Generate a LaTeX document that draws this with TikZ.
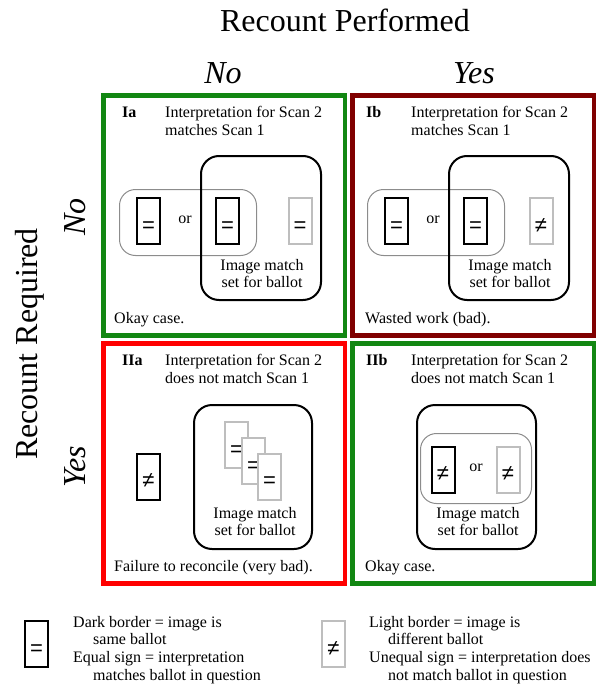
\documentclass[tikz,border=0pt]{standalone}
\usepackage{fontspec}
\setmainfont{Liberation Serif}
\newfontfamily\signfont{Liberation Sans}
\definecolor{okgreen}{RGB}{18,135,18}
\definecolor{badred}{RGB}{128,0,0}
\definecolor{failred}{RGB}{255,0,0}
\definecolor{setgray}{RGB}{140,140,140}
\definecolor{lightbal}{RGB}{190,190,190}
\tikzset{
  panel/.style={draw, line width=4.5pt, minimum width=241.5pt, minimum height=240pt, inner sep=0pt},
  matchset/.style={draw=black, line width=2pt, rounded corners=18pt, inner sep=0pt},
  optset/.style={draw=setgray, line width=1pt, rounded corners=16pt, inner sep=0pt},
  ballot/.style={line width=2pt, fill=white, minimum width=23pt, minimum height=46pt, inner sep=0pt,
    font=\signfont\fontsize{22}{23}\selectfont, text height=22pt, text depth=0pt},
  darkballot/.style={ballot, draw=black},
  lightballot/.style={ballot, draw=lightbal},
  txt/.style={font=\fontsize{16}{18}\selectfont, inner sep=0pt, anchor=base west},
  ctxt/.style={font=\fontsize{16}{18}\selectfont, inner sep=0pt, anchor=base},
  head/.style={font=\fontsize{32}{36}\selectfont, inner sep=0pt, anchor=base},
}
\begin{document}
\begin{tikzpicture}[x=1pt,y=-1pt]
\useasboundingbox (0,0) rectangle (601,685);

% axis headings
\node[head] (perf) at (345,32) {Recount Performed};
\node[head] (pno) at (223,84) {\itshape No};
\node[head] (pyes) at (474,84) {\itshape Yes};
\node[head, rotate=90] (req) at (37,344) {Recount Required};
\node[head, rotate=90] (rno) at (85,217) {\itshape No};
\node[head, rotate=90] (ryes) at (85,467) {\itshape Yes};

% quadrant frames
\node[panel, draw=okgreen] (Ia) at (224.25,215.5) {};
\node[panel, draw=badred] (Ib) at (473.25,215.5) {};
\node[panel, draw=failred] (IIa) at (224.25,463.5) {};
\node[panel, draw=okgreen] (IIb) at (473.25,463.5) {};

% ---- Ia ----
\node[txt, font=\bfseries\fontsize{16}{18}\selectfont] (Ia-tag) at (122,117) {Ia};
\node[txt] (Ia-l1) at (165,117) {Interpretation for Scan 2};
\node[txt] (Ia-l2) at (165,135) {matches Scan 1};
\node[optset, minimum width=137pt, minimum height=66pt] (Ia-opt) at (188,222.5) {};
\node[matchset, minimum width=120pt, minimum height=144pt] (Ia-set) at (261,228) {};
\node[darkballot] (Ia-b1) at (148.5,221) {=};
\node[ctxt] (Ia-or) at (185,223) {or};
\node[darkballot] (Ia-b2) at (227.5,221) {=};
\node[lightballot] (Ia-b3) at (300,221) {=};
\node[ctxt] (Ia-m1) at (262,270) {Image match};
\node[ctxt] (Ia-m2) at (262,287) {set for ballot};
\node[txt] (Ia-note) at (114,323) {Okay case.};

% ---- Ib ----
\node[txt, font=\bfseries\fontsize{16}{18}\selectfont] (Ib-tag) at (366,117) {Ib};
\node[txt] (Ib-l1) at (411,117) {Interpretation for Scan 2};
\node[txt] (Ib-l2) at (411,135) {matches Scan 1};
\node[optset, minimum width=137pt, minimum height=66pt] (Ib-opt) at (436,222.5) {};
\node[matchset, minimum width=120pt, minimum height=144pt] (Ib-set) at (509,228) {};
\node[darkballot] (Ib-b1) at (396.5,221) {=};
\node[ctxt] (Ib-or) at (433,223) {or};
\node[darkballot] (Ib-b2) at (475.5,221) {=};
\node[lightballot] (Ib-b3) at (541,221) {≠};
\node[ctxt] (Ib-m1) at (510,270) {Image match};
\node[ctxt] (Ib-m2) at (510,287) {set for ballot};
\node[txt] (Ib-note) at (365,323) {Wasted work (bad).};

% ---- IIa ----
\node[txt, font=\bfseries\fontsize{16}{18}\selectfont] (IIa-tag) at (122,365) {IIa};
\node[txt] (IIa-l1) at (165,365) {Interpretation for Scan 2};
\node[txt] (IIa-l2) at (165,383) {does not match Scan 1};
\node[matchset, minimum width=118pt, minimum height=144pt] (IIa-set) at (253,477) {};
\node[darkballot] (IIa-b0) at (148.5,476.5) {≠};
\node[lightballot] (IIa-s1) at (236.5,445) {=};
\node[lightballot] (IIa-s2) at (253.5,461) {=};
\node[lightballot] (IIa-s3) at (269.5,476.5) {=};
\node[ctxt] (IIa-m1) at (255,518) {Image match};
\node[ctxt] (IIa-m2) at (255,535) {set for ballot};
\node[txt] (IIa-note) at (114,571) {Failure to reconcile (very bad).};

% ---- IIb ----
\node[txt, font=\bfseries\fontsize{16}{18}\selectfont] (IIb-tag) at (366,365) {IIb};
\node[txt] (IIb-l1) at (411,365) {Interpretation for Scan 2};
\node[txt] (IIb-l2) at (411,383) {does not match Scan 1};
\node[matchset, minimum width=119pt, minimum height=144pt] (IIb-set) at (476.5,477) {};
\node[optset, minimum width=111pt, minimum height=70pt] (IIb-opt) at (476,468.5) {};
\node[darkballot] (IIb-b1) at (443,469.5) {≠};
\node[ctxt] (IIb-or) at (476,471) {or};
\node[lightballot] (IIb-b2) at (508,469.5) {≠};
\node[ctxt] (IIb-m1) at (478,518) {Image match};
\node[ctxt] (IIb-m2) at (478,535) {set for ballot};
\node[txt] (IIb-note) at (365,571) {Okay case.};

% ---- legend ----
\node[darkballot] (key-dark) at (36.5,644) {=};
\node[txt] (key-d1) at (73,627) {Dark border = image is};
\node[txt] (key-d2) at (93,644) {same ballot};
\node[txt] (key-d3) at (73,662) {Equal sign = interpretation};
\node[txt] (key-d4) at (93,680) {matches ballot in question};
\node[lightballot] (key-light) at (333.5,644) {≠};
\node[txt] (key-l1) at (369,627) {Light border = image is};
\node[txt] (key-l2) at (388,644) {different ballot};
\node[txt] (key-l3) at (369,662) {Unequal sign = interpretation does};
\node[txt] (key-l4) at (388,680) {not match ballot in question};
\end{tikzpicture}
\end{document}
